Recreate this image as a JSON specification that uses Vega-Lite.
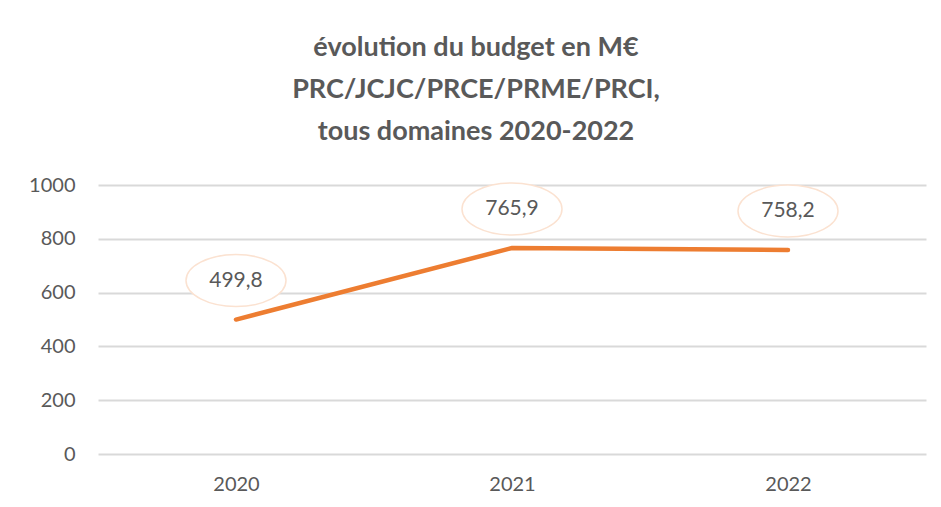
{
  "$schema": "https://vega.github.io/schema/vega-lite/v6.json",
  "width": 828,
  "height": 269,
  "autosize": {"type": "none"},
  "padding": {"left": 98, "top": 185, "right": 15, "bottom": 53},
  "background": "white",
  "title": {
    "text": ["évolution du budget en M€", "PRC/JCJC/PRCE/PRME/PRCI,", "tous domaines 2020-2022"],
    "font": "Lato",
    "fontSize": 27,
    "fontWeight": "bold",
    "color": "#595959",
    "lineHeight": 42,
    "anchor": "middle",
    "frame": "group",
    "dx": -36,
    "offset": 29
  },
  "data": {
    "values": [
      {"annee": "2020", "budget": 499.8, "label": "499,8"},
      {"annee": "2021", "budget": 765.9, "label": "765,9"},
      {"annee": "2022", "budget": 758.2, "label": "758,2"}
    ]
  },
  "encoding": {
    "x": {
      "field": "annee",
      "type": "ordinal",
      "scale": {"type": "point", "padding": 0.5},
      "axis": {
        "title": null,
        "labelAngle": 0,
        "labelFont": "Lato",
        "labelFontSize": 20,
        "labelColor": "#595959",
        "labelPadding": 20,
        "ticks": false,
        "domain": false,
        "grid": false
      }
    },
    "y": {
      "field": "budget",
      "type": "quantitative",
      "scale": {"domain": [0, 1000]},
      "axis": {
        "title": null,
        "values": [0, 200, 400, 600, 800, 1000],
        "format": "d",
        "labelFont": "Lato",
        "labelFontSize": 20,
        "labelColor": "#595959",
        "labelPadding": 23,
        "ticks": false,
        "domain": false,
        "grid": true,
        "gridColor": "#D9D9D9",
        "gridWidth": 1.8
      }
    }
  },
  "layer": [
    {
      "mark": {"type": "line", "color": "#ED7D31", "strokeWidth": 4.5, "strokeCap": "round", "strokeJoin": "miter"}
    },
    {
      "mark": {
        "type": "point",
        "shape": "M-1,0A1,0.52 0 1,0 1,0A1,0.52 0 1,0 -1,0Z",
        "size": 10000,
        "filled": false,
        "fill": "white",
        "fillOpacity": 1,
        "stroke": "#FBE2D1",
        "strokeWidth": 1.5,
        "opacity": 1,
        "yOffset": -39
      }
    },
    {
      "mark": {
        "type": "text",
        "font": "Lato",
        "fontSize": 21,
        "color": "#595959",
        "yOffset": -39,
        "baseline": "middle",
        "align": "center"
      },
      "encoding": {"text": {"field": "label"}}
    }
  ],
  "config": {"view": {"stroke": null}}
}
